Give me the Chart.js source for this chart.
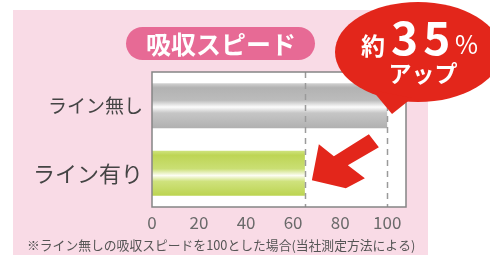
<!DOCTYPE html>
<html><head><meta charset="utf-8">
<script src="https://cdn.jsdelivr.net/npm/chart.js@4"></script>
<style>html,body{margin:0;padding:0;background:#fff;overflow:hidden}#wrap{width:490px;height:255px;position:relative}</style>
</head><body><div id="wrap"><canvas id="c" width="490" height="255"></canvas></div>
<script>
const categories = ['ライン無し', 'ライン有り'];
const values = [100, 65];
const xTicks = [0, 20, 40, 60, 80, 100];
const titleText = '吸収スピード';
const footnote = '※ライン無しの吸収スピードを100とした場合(当社測定方法による)';
const badgePre = '約', badgeMain = '35', badgeSuf = '%', badgeSub = 'アップ';

const FONT = '"Noto Sans CJK JP", "Noto Sans", sans-serif';
const gradStops = [
  [[0, '#d2d2d2'], [0.1, '#b2b2b2'], [0.38, '#bcbcbc'], [0.53, '#fcfcfc'], [0.66, '#c6c6c6'], [1, '#b0b0b0']],
  [[0, '#cfe37e'], [0.1, '#bed555'], [0.4, '#cadf74'], [0.55, '#fcfdf2'], [0.68, '#cfe27d'], [1, '#bcd451']]
];
const baseColors = ['#b8b8b8', '#c2d85a'];

function roundRect(c, x, y, w, h, r) {
  c.beginPath();
  c.moveTo(x + r, y);
  c.lineTo(x + w - r, y);
  c.arc(x + w - r, y + r, r, -Math.PI / 2, Math.PI / 2);
  c.lineTo(x + r, y + h);
  c.arc(x + r, y + r, r, Math.PI / 2, Math.PI * 1.5);
  c.closePath();
}

const decor = {
  id: 'decor',
  beforeDraw(chart) {
    const c = chart.ctx, a = chart.chartArea;
    c.save();
    c.fillStyle = '#ffffff';
    c.fillRect(0, 0, chart.width, chart.height);
    c.fillStyle = '#f9dbe6';
    c.fillRect(13, 10, 415, 245);
    c.fillStyle = '#ffffff';
    c.fillRect(a.left, a.top, a.right - a.left, a.bottom - a.top);
    // title pill
    c.fillStyle = '#e76a95';
    roundRect(c, 126, 27, 189, 33, 16.5);
    c.fill();
    c.fillStyle = '#ffffff';
    c.font = 'bold 25px ' + FONT;
    c.textAlign = 'center';
    c.textBaseline = 'middle';
    c.fillText(titleText, 221, 44);
    c.restore();
  },
  afterDatasetsDraw(chart) {
    const c = chart.ctx, a = chart.chartArea, xs = chart.scales.x, ys = chart.scales.y;
    c.save();
    // dashed guide lines at the bar ends
    c.strokeStyle = '#9a9a9a';
    c.lineWidth = 1.5;
    c.setLineDash([6, 5]);
    values.forEach(v => {
      const px = Math.round(xs.getPixelForValue(v)) + 0.5;
      c.beginPath();
      c.moveTo(px, a.top);
      c.lineTo(px, a.bottom);
      c.stroke();
    });
    c.setLineDash([]);
    // plot border
    c.strokeStyle = '#858585';
    c.lineWidth = 1.5;
    c.strokeRect(a.left, a.top, a.right - a.left, a.bottom - a.top);
    // red arrow pointing at the green bar end
    const tx = xs.getPixelForValue(values[1]) + 7;
    const ty = ys.getPixelForValue(1) + 7;
    const pts = [[0, 0], [7, -36], [22, -24], [57, -46], [67, -33], [36, -15], [53, -2], [34, 8]];
    c.fillStyle = '#e3261b';
    c.beginPath();
    pts.forEach((p, i) => i ? c.lineTo(tx + p[0], ty + p[1]) : c.moveTo(tx + p[0], ty + p[1]));
    c.closePath();
    c.fill();
    // speech bubble
    c.beginPath();
    c.ellipse(418, 52, 83, 50, 0, 0, Math.PI * 2);
    c.fill();
    c.beginPath();
    c.moveTo(372, 90);
    c.lineTo(392, 114);
    c.lineTo(412, 98);
    c.closePath();
    c.fill();
    c.fillStyle = '#ffffff';
    c.textBaseline = 'alphabetic';
    c.textAlign = 'left';
    c.font = 'bold 24px ' + FONT;
    c.fillText(badgePre, 361, 55);
    c.font = 'bold 46px ' + FONT;
    c.letterSpacing = '5px';
    c.fillText(badgeMain, 391, 55);
    c.letterSpacing = '0px';
    c.font = '25px ' + FONT;
    c.fillText(badgeSuf, 455, 54);
    c.textAlign = 'center';
    c.font = 'bold 23px ' + FONT;
    c.fillText(badgeSub, 423, 82);
    // footnote
    c.fillStyle = '#555555';
    c.font = '12.8px ' + FONT;
    c.textAlign = 'left';
    c.textBaseline = 'middle';
    c.fillText(footnote, 27, 245);
    c.restore();
  }
};

new Chart(document.getElementById('c'), {
  type: 'bar',
  data: {
    labels: categories,
    datasets: [{
      data: values,
      barPercentage: 0.667,
      categoryPercentage: 1,
      borderWidth: 0,
      backgroundColor: ctx => {
        const chart = ctx.chart;
        const i = ctx.dataIndex;
        if (!chart.chartArea || !chart.scales.y) return baseColors[i];
        const ys = chart.scales.y;
        const yc = ys.getPixelForValue(i);
        const h = (ys.bottom - ys.top) / categories.length * 0.667;
        const g = chart.ctx.createLinearGradient(0, yc - h / 2, 0, yc + h / 2);
        gradStops[i].forEach(s => g.addColorStop(s[0], s[1]));
        return g;
      }
    }]
  },
  options: {
    indexAxis: 'y',
    responsive: false,
    animation: false,
    devicePixelRatio: 1,
    layout: { padding: { top: 72, right: 84, left: 0, bottom: 0 } },
    plugins: { legend: { display: false }, tooltip: { enabled: false }, title: { display: false } },
    scales: {
      x: {
        min: 0, max: 108,
        afterBuildTicks: s => { s.ticks = xTicks.map(v => ({ value: v })); },
        afterFit: s => { s.height = 48; },
        grid: { display: false, drawTicks: false },
        border: { display: false },
        ticks: { color: '#6a6a6a', padding: 5, font: { family: FONT, size: 17 } }
      },
      y: {
        afterFit: s => { s.width = 152; },
        grid: { display: false, drawTicks: false },
        border: { display: false },
        ticks: {
          color: '#444444', padding: 9,
          font: ctx => ({ family: FONT, size: ctx.index === 1 ? 22 : 19 })
        }
      }
    }
  },
  plugins: [decor]
});
</script>
</body></html>
